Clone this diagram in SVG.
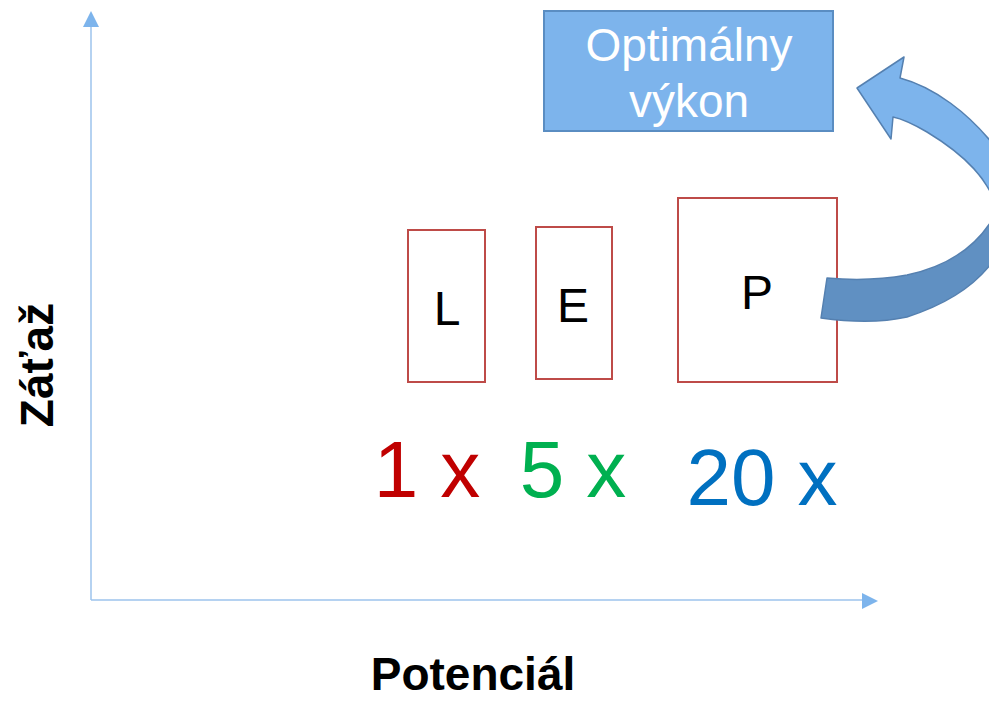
<svg xmlns="http://www.w3.org/2000/svg" width="989" height="701" viewBox="0 0 989 701">
  <style>
    .axis { stroke: #9CC3EC; stroke-width: 1.5; fill: none; }
    .head { fill: #7DB4EC; }
    .box { fill: #FFFFFF; stroke: #BE4B48; stroke-width: 2; }
    .lbl { font-family: "Liberation Sans", Arial, sans-serif; font-size: 48px; fill: #000000; text-anchor: middle; }
    .mult { font-family: "Liberation Sans", Arial, sans-serif; font-size: 80px; text-anchor: middle; }
    .title { font-family: "Liberation Sans", Arial, sans-serif; font-weight: bold; font-size: 46px; fill: #000000; text-anchor: middle; }
    .goal { font-family: "Liberation Sans", Arial, sans-serif; font-size: 46px; fill: #FFFFFF; text-anchor: middle; }
  </style>

  <rect width="989" height="701" fill="#FFFFFF"/>

  <!-- axes -->
  <g id="axes">
    <line class="axis" x1="91" y1="600" x2="91" y2="26"/>
    <polygon class="head" points="91,11 99,27 83,27"/>
    <line class="axis" x1="91" y1="600" x2="863" y2="600"/>
    <polygon class="head" points="878,601 862,593 862,609"/>
    <text class="title" x="473" y="690">Potenciál</text>
    <text class="title" transform="translate(53,365) rotate(-90)" x="0" y="0">Záťaž</text>
  </g>

  <!-- goal box -->
  <g id="goal">
    <rect x="544" y="11" width="289" height="120" fill="#7DB4EC" stroke="#5A8DC2" stroke-width="2"/>
    <text class="goal" x="689" y="61">Optimálny</text>
    <text class="goal" x="689" y="117">výkon</text>
  </g>

  <!-- type boxes -->
  <g id="node-L">
    <rect class="box" x="408" y="230" width="77" height="152"/>
    <text class="lbl" x="447" y="325">L</text>
  </g>
  <g id="node-E">
    <rect class="box" x="536" y="227" width="76" height="152"/>
    <text class="lbl" x="573" y="322">E</text>
  </g>
  <g id="node-P">
    <rect class="box" x="678" y="198" width="159" height="184"/>
    <text class="lbl" x="757" y="309">P</text>
  </g>

  <!-- multipliers -->
  <g id="multipliers">
    <text class="mult" x="427" y="497" fill="#C00000">1 x</text>
    <text class="mult" x="573" y="497" fill="#00B050">5 x</text>
    <text class="mult" x="762" y="505" fill="#0070C0">20 x</text>
  </g>

  <!-- curved arrow from P back up to the goal: shaded back face, then lit front face -->
  <g id="connectors" stroke="#5580B0" stroke-width="1.5" stroke-linejoin="round">
    <path fill="#6090C2" d="M 1000,205 L 1012,220 C 1000,270 960,300 907,317 C 880,323 850,322 821,318 L 827,278 C 860,281 885,279 907,275 C 950,266 982,245 1000,205 Z"/>
    <path fill="#7DB4EC" d="M 857,88 L 904,57 L 900,78 C 930,86 970,110 1005,160 L 1010,215 L 998,212 C 990,180 965,155 927,132 C 915,125 903,119 893,117 L 891,139 Z"/>
  </g>
</svg>
